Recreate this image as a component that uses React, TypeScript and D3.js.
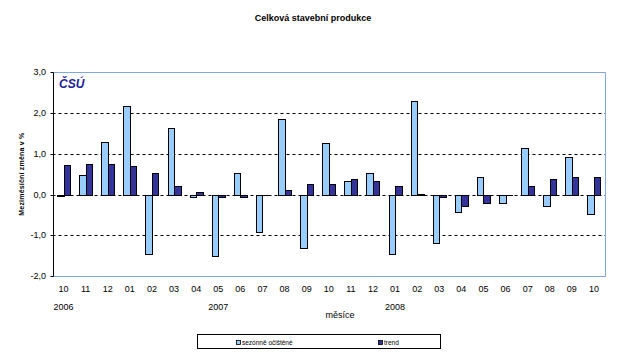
import React from "react";
import * as d3 from "d3";

const months = ["10","11","12","01","02","03","04","05","06","07","08","09","10","11","12","01","02","03","04","05","06","07","08","09","10"];
const years = [{ idx: 0, label: "2006" }, { idx: 7, label: "2007" }, { idx: 15, label: "2008" }];
const seasonal = [-0.03,0.49,1.30,2.18,-1.45,1.64,-0.07,-1.52,0.54,-0.91,1.86,-1.32,1.27,0.34,0.54,-1.47,2.30,-1.18,-0.42,0.42,-0.22,1.13,-0.27,0.93,-0.49];
const trend = [0.73,0.76,0.76,0.69,0.54,0.22,0.07,-0.05,-0.07,-0.02,0.12,0.25,0.27,0.39,0.34,0.20,0.01,-0.07,-0.27,-0.20,0.0,0.22,0.39,0.44,0.42];
const yTicks = [3, 2, 1, 0, -1, -2];
const gridTicks = [2, 1, 0, -1];
const seriesNames = ["sezónně očištěné", "trend"];
const colors = ["#99ccff", "#333399"];

export default function App() {
  const W = 626, H = 357;
  const left = 52.5, right = 605, top = 72.3, bottom = 276;
  const x = d3.scaleBand<number>().domain(d3.range(months.length)).range([left, right]).paddingInner(0.41).paddingOuter(0.205);
  const inner = d3.scaleBand<number>().domain([0, 1]).range([0, x.bandwidth()]);
  const y = d3.scaleLinear().domain([-2, 3]).range([bottom, top]);
  const font = "Arial, 'Liberation Sans', sans-serif";
  const fmt = (v: number) => v.toFixed(1).replace(".", ",");
  const series = [seasonal, trend];
  const px = (v: number) => Math.round(v) + 0.5;
  return (
    <svg width={W} height={H} style={{ position: "absolute", left: 0, top: 0 }} fontFamily={font}>
      <rect x={0} y={0} width={W} height={H} fill="#fff" />
      <text x={313} y={21} textAnchor="middle" fontSize={9} fontWeight="bold">Celková stavební produkce</text>
      <path d={`M${px(left)},${px(top)}H${px(right)}V${px(bottom)}H${px(left)}`} fill="none" stroke="#7fa7d9" strokeWidth={1} />
      {gridTicks.map(t => (
        <line key={t} x1={left} x2={right} y1={px(y(t))} y2={px(y(t))} stroke="#000" strokeDasharray="3,3" />
      ))}
      {series.map((s, si) => s.map((v, i) => {
        const x0 = px((x(i) as number) + (inner(si) as number));
        const x1 = px((x(i) as number) + (inner(si) as number) + inner.bandwidth());
        const y0 = px(y(0)), y1 = px(y(v));
        return (
          <rect key={si + "-" + i} x={x0} width={x1 - x0}
            y={Math.min(y0, y1)} height={Math.max(Math.abs(y1 - y0), 0.01)} fill={colors[si]} stroke="#000" strokeWidth={1} />
        );
      }))}
      <line x1={px(left)} x2={px(left)} y1={px(top)} y2={px(bottom)} stroke="#000" />
      {yTicks.map(t => (
        <g key={t}>
          <line x1={px(left) - 3} x2={px(left)} y1={px(y(t))} y2={px(y(t))} stroke="#000" />
          <text x={46} y={y(t) + 3} textAnchor="end" fontSize={9}>{fmt(t)}</text>
        </g>
      ))}
      <text transform={`translate(24,${(top + bottom) / 2}) rotate(-90)`} textAnchor="middle" fontSize={7} fontWeight="bold" letterSpacing={0.2}>Meziměsíční změna v %</text>
      {months.map((m, i) => (
        <text key={i} x={(x(i) as number) + x.bandwidth() / 2} y={292} textAnchor="middle" fontSize={9}>{m}</text>
      ))}
      {years.map(yr => (
        <text key={yr.label} x={(x(yr.idx) as number) + x.bandwidth() / 2} y={310} textAnchor="middle" fontSize={9}>{yr.label}</text>
      ))}
      <text x={340} y={318} textAnchor="middle" fontSize={9}>měsíce</text>
      <text x={59} y={88} fontSize={12} fontWeight="bold" fontStyle="italic" fill="#1c1c9c">ČSÚ</text>
      <rect x={197.5} y={334.5} width={243} height={14} fill="#fff" stroke="#000" />
      <rect x={236.5} y={340.5} width={4} height={4} fill={colors[0]} stroke="#000" strokeWidth={0.8} />
      <text x={242} y={345} fontSize={6.5}>{seriesNames[0]}</text>
      <rect x={378.5} y={340.5} width={4} height={4} fill={colors[1]} stroke="#000" strokeWidth={0.8} />
      <text x={384} y={345} fontSize={6.5}>{seriesNames[1]}</text>
    </svg>
  );
}
